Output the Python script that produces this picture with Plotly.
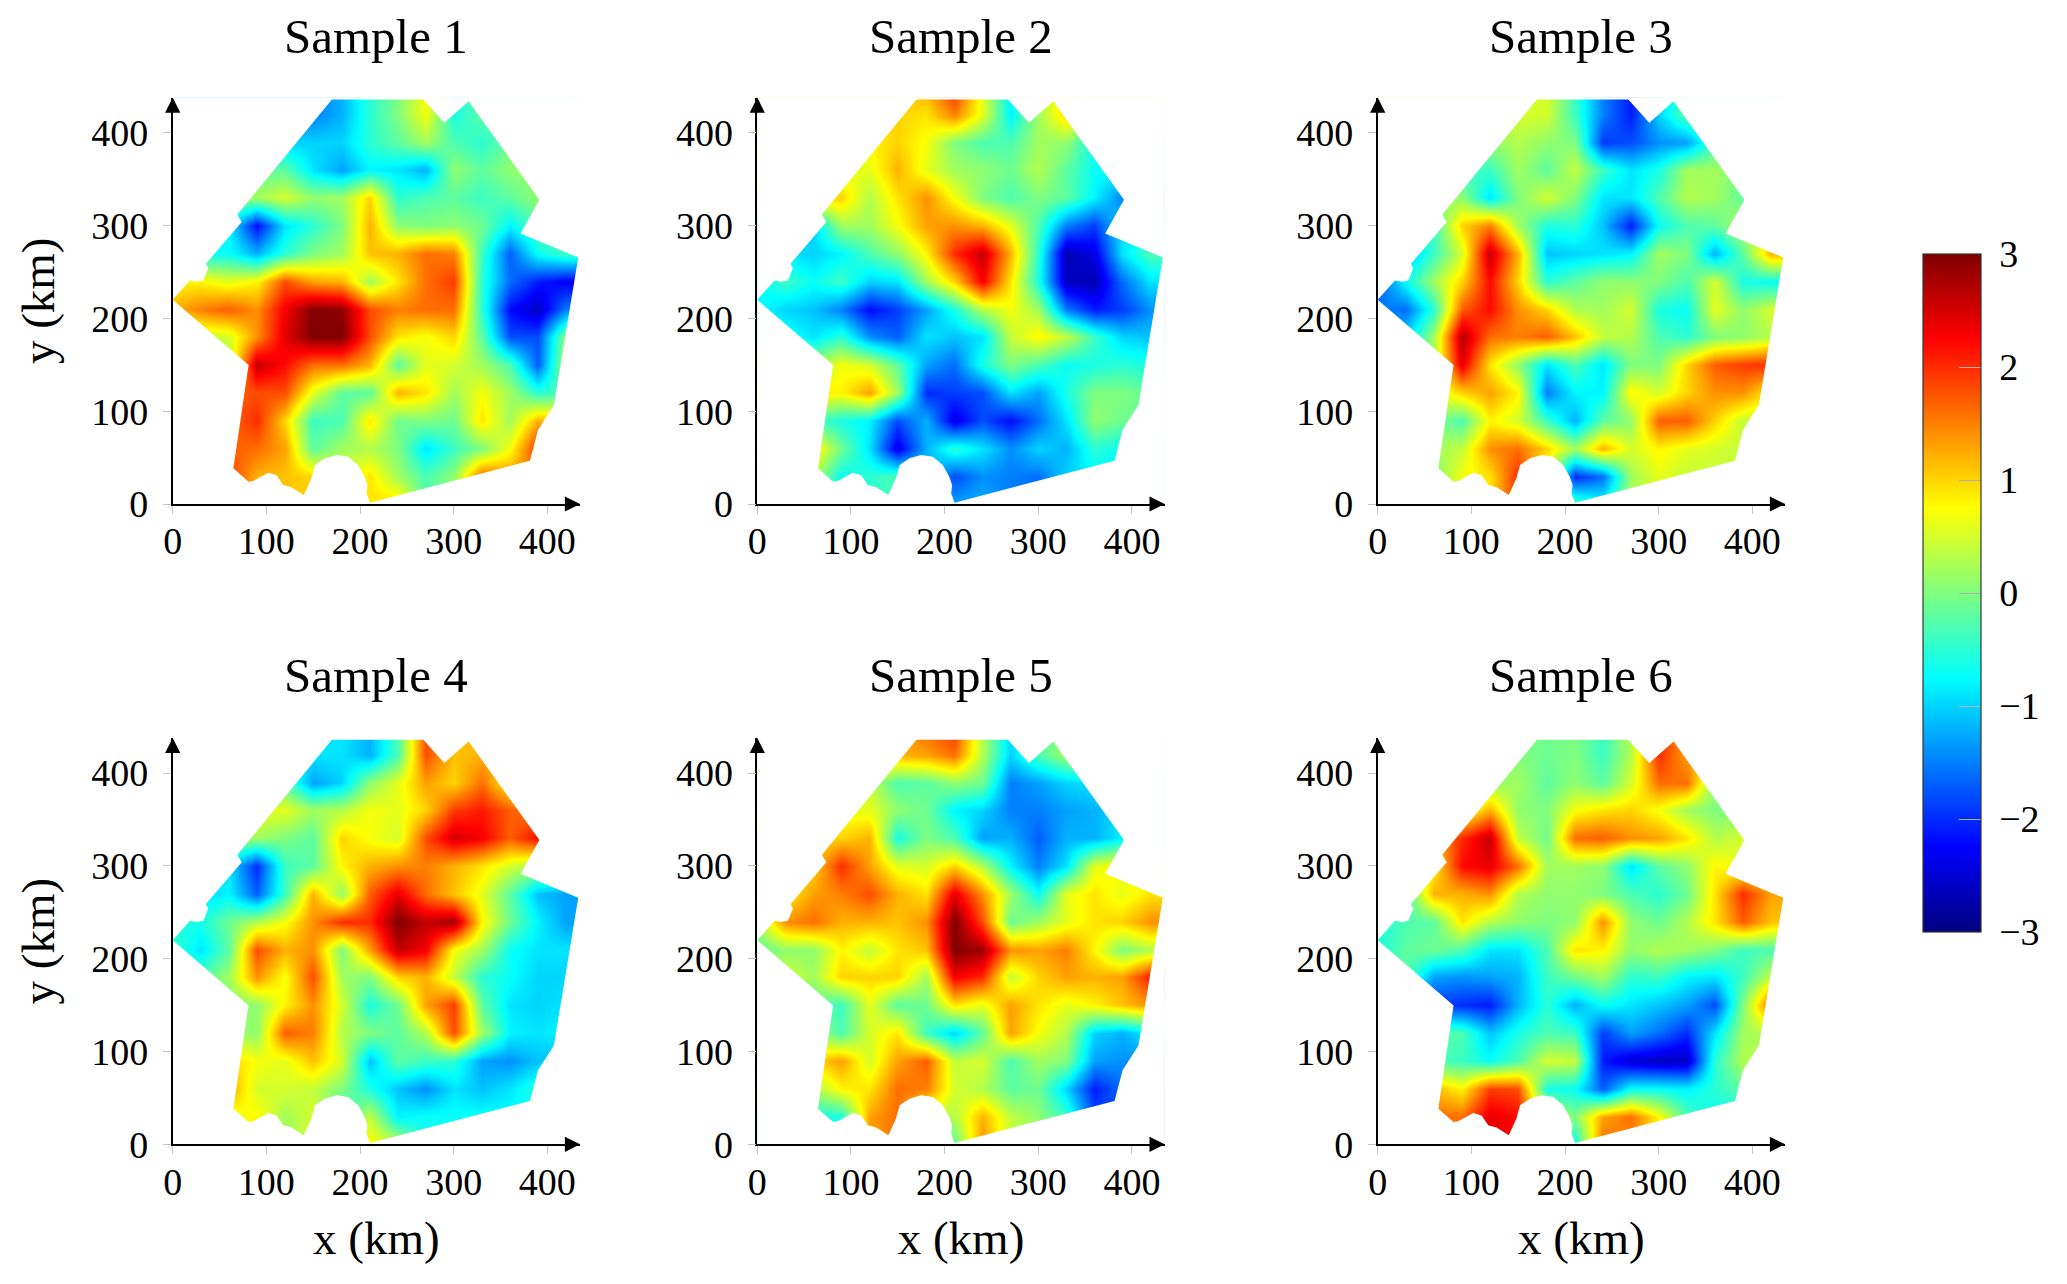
import plotly.graph_objects as go

GRID_X = [0, 30, 60, 90, 120, 150, 180, 210, 240, 270, 300, 330, 360, 390, 420, 433]
GRID_Y = [436, 420, 390, 360, 330, 300, 270, 240, 210, 180, 150, 120, 90, 60, 30, 0]

SAMPLE_1 = [
[-1.5,-1.5,-1.5,-1.5,-1.5,-1.5,-1.2,-.5,0,.7,-.6,-.2,-.2,-.2,-.2,-.2],
[-1.5,-1.5,-1.5,-1.5,-1.5,-1.5,-1.2,-.5,0,.7,-.6,-.2,-.2,-.2,-.2,-.2],
[-1,-1,-1,-1,-1,-1,-1,-.5,-.2,.2,-.3,-.5,-.1,-.1,-.1,-.1],
[-.2,-.2,-.2,-.2,-.2,-.9,-1.3,-.8,-.9,-1.2,.1,-.2,.1,.1,.1,.1],
[.2,.2,.2,.2,.5,.1,.2,1,-.5,-.3,-.2,-.4,-.2,.1,.1,.1],
[-.8,-.8,-.8,-2.2,-.9,-.5,0,1.2,.1,0,.1,-.1,-.8,-.2,-.2,-.2],
[-.7,-.7,-.7,-1.2,-.5,0,.2,1.1,1.2,1.6,1.5,-.4,-1.7,-.7,-.4,-.4],
[.8,.8,.6,.8,1.8,1.3,1.2,.2,.9,1.6,1.9,-.5,-1.6,-2.1,-2.3,-2.3],
[1.2,1.5,1.7,1.4,2.3,3,2.9,1.8,1.5,1.6,1.6,-.5,-2.2,-2.6,-1.5,-1.5],
[0,.4,.5,1.4,2.4,3,3,1.8,.9,.7,1,-.2,-1.8,-1.8,.1,.1],
[.3,.3,.3,2.6,2.2,1.6,1.6,1.2,-.2,.6,.5,.2,-.3,-1.7,.3,.3],
[1.7,1.7,1.7,1.8,1.8,.6,-.2,-.2,1.2,.9,.2,.7,.2,-.5,-.3,-.3],
[1.6,1.6,1.6,2,1,-.4,-.3,.9,-.1,0,-.1,.9,.2,1.2,1,1],
[1.7,1.7,1.7,1.6,1.3,-.2,.2,.3,0,-.9,-.4,0,.7,2,2,2],
[1.9,1.9,1.9,1.2,1.1,1,.5,.9,.2,-.3,.1,1.7,1.4,1.4,1.4,1.4],
[1.9,1.9,1.9,1.2,1.1,1,.5,.9,1,-.3,.1,1.7,1.4,1.4,1.4,1.4],
]
SAMPLE_2 = [
[1,1,1,1,1,1,1.1,1.8,.6,-.8,.2,1,.5,.5,.5,.5],
[1,1,1,1,1,1,.9,1.5,.6,-.8,.2,1,.5,.5,.5,.5],
[.8,.8,.8,.8,.8,1,.7,0,-.3,-.3,.2,.1,-.7,-.7,-.7,-.7],
[.6,.6,.6,.6,.6,1.2,.6,.2,.1,-.1,.3,-.2,-.7,-.7,-.7,-.7],
[1,1,1,1,.3,.9,1.4,.7,0,-.3,0,-.2,-.8,-1.5,-1.5,-1.5],
[-1,-1,-1,.2,.2,.7,1.3,1.4,1.2,.6,-.3,-1.5,-1.9,-.9,-.9,-.9],
[-.9,-.9,-1,-.8,-.3,.1,.8,2,2.6,1.2,-.5,-2.7,-2.4,-.9,-.3,-.3],
[-.8,-.4,-.7,-.4,-1,-.9,.2,1,2.3,.9,-.6,-2.6,-2.7,-1.6,-.9,-.9],
[-.7,-1,-1.1,-1.5,-2.2,-1.9,-1.3,-.6,.3,.7,.2,-1.5,-2.1,-1.9,-1.4,-1.4],
[-.6,-.6,-.9,-.5,-1.4,-1.7,-.9,-1.1,-.9,.4,.8,.4,-.4,-1,-1.1,-1.1],
[.2,.2,.2,.7,.5,-.2,-1.3,-1.6,-.6,0,-.3,-.7,-.6,-.5,-.6,-.6],
[.9,.9,.9,.8,1.3,.2,-2,-1.9,-1.8,-.9,-1.3,-.6,0,0,-.2,-.2],
[-.3,-.3,-.3,-.6,-.8,-1.8,-1.2,-2.4,-1.8,-2.2,-1.6,-.9,.1,-.1,-.1,-.1],
[.9,.9,.9,-.1,-.9,-2.4,-1.2,-.5,-.9,-1.4,-1,-1.2,-.5,-.7,-.7,-.7],
[.3,.3,.3,-.7,-.5,-.3,-1,-1.8,-1.4,-1.5,-1.6,-1,-.8,-.8,-.8,-.8],
[.3,.3,.3,-.7,-.5,-.3,-1,-1.3,-1.2,-1.5,-1.6,-1,-.8,-.8,-.8,-.8],
]
SAMPLE_3 = [
[.5,.5,.5,.5,.5,.5,.5,-.4,-1.5,-2.1,-1,-.2,-.2,-.2,-.2,-.2],
[.5,.5,.5,.5,.5,.5,.5,-.4,-1.5,-2.1,-1,-.2,-.2,-.2,-.2,-.2],
[.1,.1,.1,.1,.1,.3,.1,0,-1.9,-1.8,-1.4,-1.3,-.3,-.3,-.3,-.3],
[-.4,-.4,-.4,-.4,-.4,.2,-.2,.4,-.4,-.9,-.6,.2,.2,0,0,0],
[.1,.1,.1,.1,-.9,0,.5,0,-.9,-.9,-.3,.3,.2,-.2,-.2,-.2],
[-.4,-.4,-.4,1,1.5,.2,-.6,-.5,-1.1,-2.1,-.7,-.3,-.2,.3,.3,.3],
[-1.2,-1.2,-.4,.5,2.6,1.2,-1.1,-1,-.9,-.8,.2,0,-1.2,-.2,1.2,1.2],
[-1.8,-.7,.2,1,2.2,1,-.5,-.2,.1,.1,0,-.3,.5,-.6,-.7,-.7],
[-1.5,-1.6,-.5,1.7,2.2,1.4,1,.3,.2,.5,-.6,-.7,.6,.1,.5,.5],
[-1,-1,.2,2.7,1.6,1.5,1.7,1.1,.4,.3,-.3,-.5,0,.1,.3,.3],
[.3,.3,.3,2.4,.9,.1,-.9,-.3,-.9,0,0,1,1.7,1.9,2,2],
[.5,.5,.5,1,1.3,.8,-1.5,-.8,-.8,.8,.5,1,1.4,1.4,.8,.8],
[0,0,0,-.3,.8,.5,-.4,-1.2,-.2,.1,1.7,1.7,1,.4,.4,.4],
[.2,.2,.2,.4,1.4,1.6,1,.2,1.2,.5,.8,.6,.5,.4,.4,.4],
[0,0,0,.7,.9,2,.5,-2,-1.6,.2,.6,.4,.4,.4,.4,.4],
[0,0,0,.7,.9,2,.5,-.3,-.7,.2,.6,.4,.4,.4,.4,.4],
]
SAMPLE_4 = [
[-.9,-.9,-.9,-.9,-.9,-.9,-.9,-1.2,-.3,1.8,1.1,1.2,1.2,1.2,1.2,1.2],
[-.9,-.9,-.9,-.9,-.9,-.9,-.9,-1.2,-.3,1.8,1.1,1.2,1.2,1.2,1.2,1.2],
[-.2,-.2,-.2,-.2,-.2,-1.3,-1,.1,.6,1.3,1,1.6,.7,.7,.7,.7],
[.6,.6,.6,.6,.6,.2,.3,.7,.6,1,1.9,2.1,1.7,1.4,1.4,1.4],
[.2,.2,.2,.2,0,-.2,1,.7,.5,1.8,2.5,2.3,1.7,2.2,2.2,2.2],
[-.9,-.9,-.9,-2,-.4,-.2,.8,1.2,1.4,1.5,1.2,.9,.5,.2,.2,.2],
[-1,-1,-.8,-1.7,-.4,1.2,.1,1.7,2.4,1.6,1.1,.6,-.2,-1.1,-1.3,-1.3],
[-.6,-.6,-.1,.3,.7,1.4,2,2,3,2.6,2.8,.8,-.1,-.8,-1.3,-1.3],
[-.4,-.9,-.2,1.8,1.2,1.4,0,1.3,2.6,2.3,.7,.2,-.7,-.9,-.9,-.9],
[-.3,-.3,.2,1.4,.7,1.8,.2,0,1,1.2,.4,-.5,-.7,-1,-1,-1],
[0,0,0,.1,.8,1.4,.5,-.6,-.1,1.3,1.9,-.2,-.9,-1,-.9,-.9],
[.2,.2,.2,.1,1.7,1.5,.3,0,-.2,.3,1.8,.2,-.8,-.9,-.8,-.8],
[1,1,1,.7,.6,1.1,.5,-1.1,-.2,-.4,-.5,-1.3,-1.4,-1.1,-1.1,-1.1],
[1.3,1.3,1.3,.5,.5,.4,0,-.6,-1.1,-1.4,-.9,-1.1,-.9,-.5,-.5,-.5],
[.6,.6,.6,.8,.2,.5,-.5,.4,-.8,-.7,-.7,-.7,-.7,-.7,-.7,-.7],
[.6,.6,.6,.8,.2,.5,-.5,.8,.4,-.7,-.7,-.7,-.7,-.7,-.7,-.7],
]
SAMPLE_5 = [
[1.2,1.2,1.2,1.2,1.2,1.2,1.5,1.8,.3,-1,-.3,.2,.2,.2,.2,.2],
[1.2,1.2,1.2,1.2,1.2,1.2,1.3,1.6,.3,-1,-.3,.2,.2,.2,.2,.2],
[.4,.4,.4,.4,.4,-.3,-.2,.1,-.1,-1.5,-1.3,-1,-.9,-.9,-.9,-.9],
[.6,.6,.6,.6,.6,.1,-.1,-.8,-1,-1.5,-1.5,-1.3,-1.2,-.9,-.9,-.9],
[1,1,1,1,1.2,-.6,0,-.3,-1.3,-1.2,-1.7,-1.2,-1.2,-.8,-.8,-.8],
[1,1,1,2,1.3,.6,.5,1,.3,-.8,-1.5,-.9,.6,.8,.8,.8],
[.8,.8,1.3,1.5,1.8,1.2,.9,2.4,1.4,.2,-.7,.6,.9,.6,.9,.9],
[.2,1.4,1.6,1.2,1.2,1.1,1.4,3,1.8,-.1,.2,.6,.9,1,1.4,1.4],
[-.2,.1,.1,.8,.4,.9,1.1,3,2.8,1.4,1.3,1.5,.8,0,.3,.3],
[.5,.5,.2,1,1,1,.2,2.3,2,.4,1,1.3,1.2,1.3,2.1,2.1],
[-.2,-.2,-.2,-.4,.6,-.2,-.1,.9,.6,1.3,.9,.6,.8,1.1,1.4,1.4],
[.2,.2,.2,-.3,.5,.9,-.4,-1,-.2,1.3,.7,.3,-1,-1.2,-.8,-.8],
[1,1,1,1.3,.5,1.3,1.7,.4,.5,-.3,.2,0,-1.3,-1.4,-1.4,-1.4],
[.2,.2,.2,.8,.9,1.6,1.5,.5,.3,-.2,-.1,-1,-2.1,-1.6,-1.6,-1.6],
[-.6,-.6,-.6,-.6,1.3,1.6,.4,.3,1.2,.4,.1,-.4,-1.8,-1.8,-1.8,-1.8],
[-.6,-.6,-.6,-.6,1.3,1.6,.4,-.2,1.4,.4,.1,-.4,-1.8,-1.8,-1.8,-1.8],
]
SAMPLE_6 = [
[0,0,0,0,0,0,-.1,0,-.4,.3,2,1.3,1.3,1.3,1.3,1.3],
[0,0,0,0,0,0,-.1,0,-.4,.3,2,1.3,1.3,1.3,1.3,1.3],
[.1,.1,.1,.1,.1,.2,-.2,.1,-.2,.5,1.6,1.6,0,0,0,0],
[.5,.5,.5,.5,1.2,.1,0,.7,.9,1,.7,.2,0,0,0,0],
[1.2,1.2,1.2,2,2.6,.4,-.1,1.6,1.7,1.4,1.3,.9,.3,.5,.5,.5],
[.8,.8,.8,2.2,2.4,1.6,.2,.2,.1,-.9,-.2,.1,.8,.6,.6,.6],
[-.4,-.4,1.2,1.2,1.4,.3,.1,.1,0,-.3,-.5,-.1,.9,2,1.3,1.3],
[-.6,-.3,-.2,.9,.3,.1,0,.1,1.4,.1,-.1,.3,.9,1.7,1.1,1.1],
[-.6,-.2,-.1,-.3,-.9,-.9,-.3,.9,.8,.1,.3,.2,0,-.4,-.3,-.3],
[-.2,-.2,-1.3,-1.4,-1.3,-1.2,-.4,-.1,.2,-.5,-.4,-.8,-.9,-.4,.4,.4],
[-1.9,-1.9,-1.9,-2,-2.1,-1.2,-.5,-1.2,-.7,-.9,-1.1,-1.3,-1.8,0,1.7,1.7],
[-.2,-.2,-.2,-.3,-1.1,-.6,-.3,-.4,-1.9,-1.3,-1.6,-2,-.9,.2,.3,.3],
[-.3,-.3,-.3,-.4,-.7,-.3,.5,.4,-2.1,-2.5,-2.6,-2.6,-.5,.3,.3,.3],
[1.2,1.2,1.2,.8,1.9,1.8,-.6,-.7,-1.7,-.7,-.7,-.8,-.5,-.2,-.2,-.2],
[1.6,1.6,1.6,1.6,2.4,2.2,.5,0,1.3,1.6,.8,-.3,-.7,-.7,-.7,-.7],
[1.6,1.6,1.6,1.6,2.4,2.2,.5,-.7,1.6,1.4,.8,-.3,-.7,-.7,-.7,-.7],
]
SAMPLES = [SAMPLE_1, SAMPLE_2, SAMPLE_3, SAMPLE_4, SAMPLE_5, SAMPLE_6]
TITLES = ["Sample 1", "Sample 2", "Sample 3", "Sample 4", "Sample 5", "Sample 6"]

# region outline in km
OUTLINE_X = [0, 18.5, 25.6, 32.7, 38, 35.6, 73.7, 69, 170, 267.6, 290, 316, 391.5, 371.5, 433, 407, 390,
             381.5, 210.7, 207, 208, 205, 198, 187.5, 175, 162.6, 152, 148, 140, 127, 118, 111, 102, 86,
             81, 64.8, 81]
OUTLINE_Y = [220, 241, 239.5, 241, 254, 259, 304, 312, 436, 436, 411, 434, 328, 291.6, 265.7, 106.6, 79.7,
             46.7, 1.4, 11.5, 20.5, 29.4, 42, 51, 52.8, 49.2, 42, 27.6, 9.7, 18, 20.5, 31, 33.8, 24.8,
             24, 38.4, 149.7]
OUTER_X = [-20, 470, 470, -20, -20]
OUTER_Y = [-20, -20, 470, 470, -20]

TICKS = [0, 100, 200, 300, 400]
CBAR_TICKS = [-3, -2, -1, 0, 1, 2, 3]
CBAR_LABELS = ["\u00a0\u22123", "\u00a0\u22122", "\u00a0\u22121", "\u00a00", "\u00a01", "\u00a02", "\u00a03"]
JET = [[0, "#000080"], [0.125, "#0000ff"], [0.375, "#00ffff"], [0.625, "#ffff00"], [0.875, "#ff0000"], [1, "#800000"]]

W, H = 2067, 1284
FONT = "Liberation Serif"
COL_X0 = [172.7, 757.3, 1377.7]
ROW_Y0 = [504, 1144.3]
XMAX, YMAX = 435, 438
PW, PH = 407.4, 406.4

fig = go.Figure()
annotations = []
mask_x = OUTER_X + OUTLINE_X + [OUTLINE_X[0]] + [OUTER_X[0]]
mask_y = OUTER_Y + OUTLINE_Y + [OUTLINE_Y[0]] + [OUTER_Y[0]]
grid_y_up = GRID_Y[::-1]

for i, z in enumerate(SAMPLES):
    r, c = divmod(i, 3)
    sfx = "" if i == 0 else str(i + 1)
    xa, ya = "x" + sfx, "y" + sfx
    fig.add_trace(go.Heatmap(x=GRID_X, y=grid_y_up, z=z[::-1], coloraxis="coloraxis", zsmooth="best",
                             xaxis=xa, yaxis=ya, hoverinfo="skip"))
    fig.add_trace(go.Scatter(x=mask_x, y=mask_y, mode="lines", fill="toself", fillcolor="white",
                             line=dict(width=0, color="white", simplify=False), hoverinfo="skip",
                             showlegend=False, xaxis=xa, yaxis=ya))
    x0, y0 = COL_X0[c], ROW_Y0[r]
    common = dict(showgrid=False, zeroline=False, showline=True, linecolor="black", linewidth=1.6,
                  ticks="outside", ticklen=8, tickwidth=1, tickcolor="#c4c4c4", tickvals=TICKS,
                  tickfont=dict(family=FONT, size=38, color="black"), fixedrange=True)
    fig.layout["xaxis" + sfx] = dict(common, domain=[x0 / W, (x0 + PW) / W], range=[0, XMAX], anchor=ya,
                                     ticklabelstandoff=-5,
                                     title=dict(text="x (km)" if r == 1 else "", standoff=19,
                                                font=dict(family=FONT, size=47, color="black")))
    fig.layout["yaxis" + sfx] = dict(common, domain=[1 - y0 / H, 1 - (y0 - PH) / H], range=[0, YMAX], anchor=xa,
                                     ticklabelstandoff=7,
                                     title=dict(text="y (km)" if c == 0 else "", standoff=22,
                                                font=dict(family=FONT, size=47, color="black")))
    annotations.append(dict(text=TITLES[i], xref=xa + " domain", x=0.5, yref="paper",
                            y=1 - (37 if r == 0 else 676) / H, yanchor="middle", xanchor="center", showarrow=False,
                            font=dict(family=FONT, size=49, color="black")))
    for (hx, hy, tx, ty) in [(XMAX, 0, XMAX - 10, 0), (0, YMAX, 0, YMAX - 10)]:
        annotations.append(dict(x=hx, y=hy, ax=tx, ay=ty, xref=xa, yref=ya, axref=xa, ayref=ya, text="",
                                showarrow=True, arrowhead=2, arrowsize=1.9, arrowwidth=1.6, arrowcolor="black",
                                standoff=0, startstandoff=0))

fig.update_layout(
    width=W, height=H, autosize=False, margin=dict(l=0, r=0, t=0, b=0, autoexpand=False),
    paper_bgcolor="white", plot_bgcolor="white", annotations=annotations, showlegend=False,
    coloraxis=dict(cmin=-3, cmax=3, colorscale=JET, colorbar=dict(
        x=1923 / W, xanchor="left", xpad=0, y=1 - 593 / H, yanchor="middle", ypad=0,
        thickness=58, thicknessmode="pixels", len=678, lenmode="pixels",
        outlinecolor="#333333", outlinewidth=1.2, ticks="inside", ticklen=22, tickwidth=1, tickcolor="#b0b0b0",
        tickvals=CBAR_TICKS, ticktext=CBAR_LABELS, tickfont=dict(family=FONT, size=38, color="black"))),
)
fig.write_html("out.html", post_script="document.body.style.margin='0';", config={"displayModeBar": False})
